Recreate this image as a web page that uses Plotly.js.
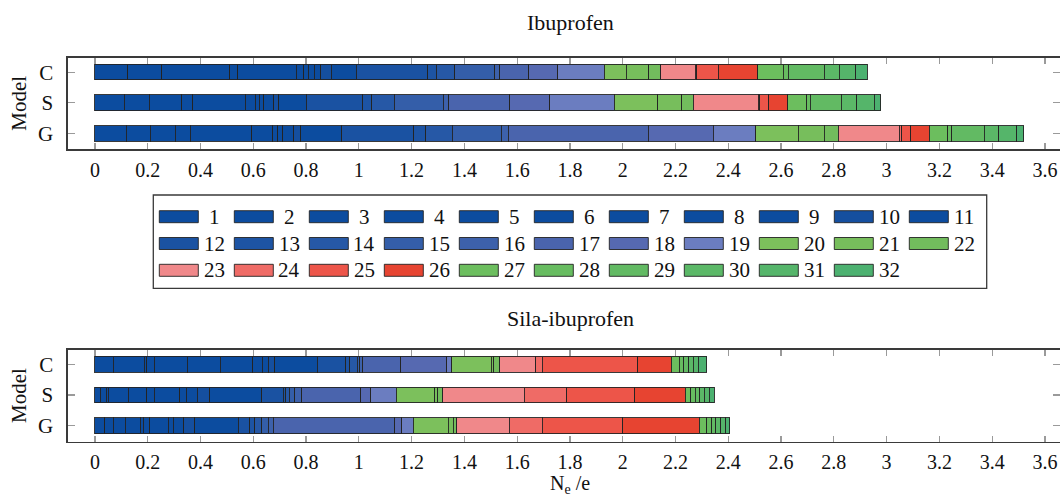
<!DOCTYPE html>
<html>
<head>
<meta charset="utf-8">
<script src="https://cdn.plot.ly/plotly-3.0.1.min.js"></script>
<style>html,body{margin:0;padding:0;background:#fff}#chart{width:1060px;height:499px}</style>
</head>
<body>
<div id="chart"></div>
<script>
// Models (rows) and orbital/basin indices (stack segments)
const models = ['C', 'S', 'G'];
const indices = Array.from({length: 32}, (_, i) => String(i + 1));

// Segment widths (N_e / e), segment 1..32
const ibuC = [0.124,0.129,0.257,0.031,0.222,0.029,0.017,0.023,0.023,0.040,0.095,0.272,0.032,0.069,0.152,0.019,0.110,0.109,0.177,0.084,0.085,0.046,0.129,0.006,0.082,0.149,0.098,0.019,0.136,0.057,0.062,0.044];
const ibuS = [0.111,0.095,0.123,0.042,0.199,0.037,0.016,0.017,0.037,0.020,0.103,0.215,0.034,0.086,0.184,0.021,0.232,0.152,0.244,0.164,0.091,0.044,0.247,0.006,0.034,0.071,0.072,0.013,0.118,0.059,0.067,0.023];
const ibuG = [0.118,0.091,0.096,0.057,0.232,0.080,0.019,0.019,0.042,0.025,0.157,0.273,0.044,0.101,0.186,0.026,0.531,0.246,0.162,0.161,0.098,0.053,0.231,0.009,0.034,0.071,0.070,0.015,0.123,0.054,0.070,0.026];

const silaC = [0.069,0.118,0.009,0.028,0.126,0.124,0.124,0.037,0.022,0.025,0.160,0.109,0.015,0.028,0.010,0.010,0.144,0.175,0.019,0.150,0.010,0.022,0.136,0.026,0.360,0.127,0.031,0.018,0.019,0.016,0.019,0.032];
const silaS = [0.021,0.021,0.008,0.076,0.070,0.028,0.098,0.025,0.041,0.048,0.196,0.082,0.010,0.012,0.022,0.025,0.224,0.038,0.096,0.147,0.011,0.019,0.308,0.161,0.259,0.190,0.022,0.016,0.018,0.017,0.018,0.019];
const silaG = [0.038,0.031,0.045,0.057,0.012,0.025,0.070,0.019,0.040,0.042,0.164,0.044,0.019,0.026,0.025,0.019,0.461,0.025,0.044,0.133,0.019,0.013,0.199,0.126,0.304,0.290,0.028,0.019,0.016,0.018,0.019,0.016];

const xTickVals = [0,0.2,0.4,0.6,0.8,1,1.2,1.4,1.6,1.8,2,2.2,2.4,2.6,2.8,3,3.2,3.4,3.6];
const xTickText = ['0','0.2','0.4','0.6','0.8','1','1.2','1.4','1.6','1.8','2','2.2','2.4','2.6','2.8','3','3.2','3.4','3.6'];

const colors = ['#0c4c9f','#0c4c9f','#0c4c9f','#0c4c9f','#0c4c9f','#0c4c9f','#0c4c9f','#0c4c9f','#0c4c9f','#154f9f','#0c4c9f',
  '#1a52a2','#1d54a4','#2658a6','#345ea9','#3d61ab','#4a64ad','#5669b1','#6b7dc0','#7cc05c','#77be5c','#72bc5d',
  '#f0888a','#ef6b66','#ed5549','#e74431','#6cbe5e','#67bc60','#62ba63','#5bb867','#55b56a','#4cb170'];

const FONT = "'Liberation Serif', 'DejaVu Serif', serif";
const FS = 21;
const traces = [];
function addPanel(C, S, G, xa, ya) {
  for (let i = 0; i < indices.length; i++) {
    traces.push({
      type: 'bar', orientation: 'h',
      x: [C[i], S[i], G[i]], y: models,
      name: indices[i], xaxis: xa, yaxis: ya,
      marker: {color: colors[i], line: {color: 'rgba(35,35,35,0.9)', width: 1}},
      showlegend: false, hoverinfo: 'x+y+name'
    });
  }
}
addPanel(ibuC, ibuS, ibuG, 'x', 'y');
addPanel(silaC, silaS, silaG, 'x2', 'y2');

const W = 1060, H = 499, L = 68, R = 0;
const PW = W - L - R;
const px = v => (v - L) / PW;      // pixel x -> paper x
const py = v => 1 - v / H;         // pixel y -> paper y

const xaxisBase = {
  range: [-0.102, 3.657], tickvals: xTickVals, ticktext: xTickText,
  ticks: 'inside', ticklen: 6, tickcolor: '#9a9a9a', tickwidth: 1.2,
  showline: true, linecolor: '#3a3a3a', linewidth: 1.6, mirror: 'ticks',
  showgrid: false, zeroline: false, ticklabelstandoff: 2,
  tickfont: {family: FONT, size: 20, color: '#111'}
};
const yaxisBase = {
  type: 'category', categoryorder: 'array', categoryarray: ['G','S','C'],
  range: [-0.51, 2.48], ticks: 'inside', ticklen: 7, tickcolor: '#9a9a9a', tickwidth: 1.2,
  showline: true, linecolor: '#3a3a3a', linewidth: 1.6, mirror: 'ticks',
  showgrid: false, zeroline: false, ticklabelstandoff: 9,
  tickfont: {family: FONT, size: FS, color: '#111'},
  title: {text: 'Model', font: {family: FONT, size: FS, color: '#111'}, standoff: 5}
};

const shapes = [];
const annotations = [];
// legend box
shapes.push({type: 'rect', xref: 'paper', yref: 'paper', x0: px(153.3), x1: px(986.7), y0: py(195), y1: py(288.3),
  line: {color: '#3a3a3a', width: 1.3}, fillcolor: 'rgba(0,0,0,0)'});
for (let k = 0; k < indices.length; k++) {
  const row = Math.floor(k / 11), col = k % 11;
  const sx = 159.3 + 75 * col, sy = 216.7 + 26.8 * row;
  shapes.push({type: 'rect', xref: 'paper', yref: 'paper', x0: px(sx), x1: px(sx + 39), y0: py(sy + 6), y1: py(sy - 6),
    line: {color: 'rgba(35,35,35,0.9)', width: 1}, fillcolor: colors[k]});
  annotations.push({xref: 'paper', yref: 'paper', x: px(sx + 55), y: py(sy), text: indices[k], showarrow: false,
    xanchor: 'center', yanchor: 'middle', font: {family: FONT, size: FS, color: '#111'}});
}
annotations.push({xref: 'paper', yref: 'paper', x: px(570), y: py(22), text: 'Ibuprofen', showarrow: false,
  xanchor: 'center', yanchor: 'middle', font: {family: FONT, size: 22, color: '#111'}});
annotations.push({xref: 'paper', yref: 'paper', x: px(570), y: py(318), text: 'Sila-ibuprofen', showarrow: false,
  xanchor: 'center', yanchor: 'middle', font: {family: FONT, size: 22, color: '#111'}});
annotations.push({xref: 'paper', yref: 'paper', x: px(570), y: py(484), text: 'N<sub>e</sub> /e', showarrow: false,
  xanchor: 'center', yanchor: 'middle', borderpad: 0, font: {family: FONT, size: 20, color: '#111'}});

const layout = {
  width: W, height: H,
  margin: {l: L, r: R, t: 0, b: 0, pad: 0},
  paper_bgcolor: '#fff', plot_bgcolor: '#fff',
  barmode: 'stack', bargap: 0.49,
  showlegend: false,
  xaxis: Object.assign({}, xaxisBase, {anchor: 'y', domain: [0, 1]}),
  yaxis: Object.assign({}, yaxisBase, {anchor: 'x', domain: [py(149), py(57.5)]}),
  xaxis2: Object.assign({}, xaxisBase, {anchor: 'y2', domain: [0, 1]}),
  yaxis2: Object.assign({}, yaxisBase, {anchor: 'x2', domain: [py(441.5), py(349.5)]}),
  shapes: shapes, annotations: annotations,
  font: {family: FONT, color: '#111'}
};

Plotly.newPlot('chart', traces, layout, {displayModeBar: false, staticPlot: true});
</script>
</body>
</html>
